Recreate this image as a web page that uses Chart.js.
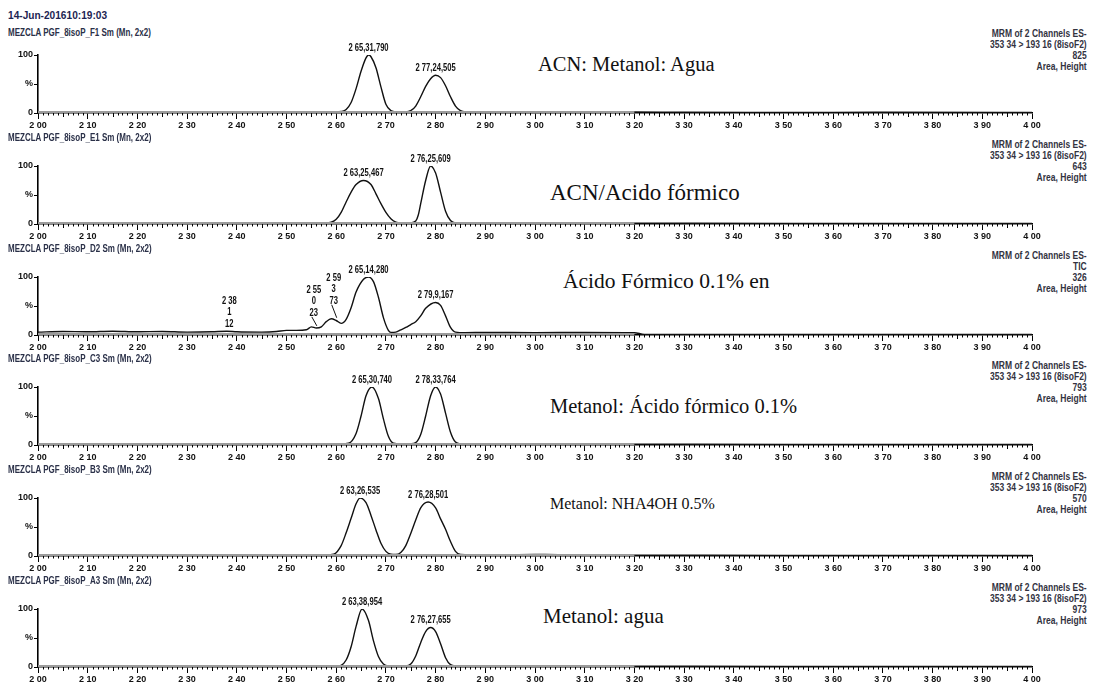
<!DOCTYPE html>
<html>
<head>
<meta charset="utf-8">
<script src="https://cdn.jsdelivr.net/npm/chart.js"></script>
<style>
  body { margin: 0; background: #fff; width: 1096px; height: 689px; overflow: hidden; position: relative;
         font-family: "Liberation Sans Narrow", "Liberation Sans", Arial, sans-serif; }
  canvas { position: absolute; left: 0; }
  .title { position: absolute; left: 8px; top: 9px; font-size: 11px; line-height: 12px; font-weight: bold; color: #1c2452;
           transform: scaleX(0.92); transform-origin: left; }
  .sub { position: absolute; left: 8px; font-size: 10px; line-height: 11px; font-weight: bold; color: #2a3048; white-space: nowrap;
         transform: scaleX(0.8); transform-origin: left; }
  .info { position: absolute; right: 9px; font-size: 10px; line-height: 11px; font-weight: bold; text-align: right; color: #33333f;
          white-space: nowrap; transform: scaleX(0.85); transform-origin: right; }
  .note { position: absolute; font-family: "Liberation Serif", "Times New Roman", serif; line-height: 1; color: #111; white-space: nowrap; }
</style>
</head>
<body>
<div class="title">14-Jun-201610:19:03</div>
<script>
// x axis
const xTickValues = [2.0, 2.1, 2.2, 2.3, 2.4, 2.5, 2.6, 2.7, 2.8, 2.9, 3.0, 3.1, 3.2, 3.3, 3.4, 3.5, 3.6, 3.7, 3.8, 3.9, 4.0];
const xTickLabels = ['2 00', '2 10', '2 20', '2 30', '2 40', '2 50', '2 60', '2 70', '2 80', '2 90', '3 00',
                     '3 10', '3 20', '3 30', '3 40', '3 50', '3 60', '3 70', '3 80', '3 90', '4 00'];
const yTickValues = [0, 50, 100];
const yTickLabels = ['0', '%', '100'];

const panelNames = ['MEZCLA PGF_8isoP_F1 Sm (Mn, 2x2)', 'MEZCLA PGF_8isoP_E1 Sm (Mn, 2x2)', 'MEZCLA PGF_8isoP_D2 Sm (Mn, 2x2)',
                    'MEZCLA PGF_8isoP_C3 Sm (Mn, 2x2)', 'MEZCLA PGF_8isoP_B3 Sm (Mn, 2x2)', 'MEZCLA PGF_8isoP_A3 Sm (Mn, 2x2)'];
const panelChannel = ['353 34 > 193 16 (8isoF2)', '353 34 > 193 16 (8isoF2)', 'TIC',
                      '353 34 > 193 16 (8isoF2)', '353 34 > 193 16 (8isoF2)', '353 34 > 193 16 (8isoF2)'];
const panelIntensity = ['825', '643', '326', '793', '570', '973'];
const panelNotes = ['ACN: Metanol: Agua', 'ACN/Acido fórmico', 'Ácido Fórmico 0.1% en',
                    'Metanol: Ácido fórmico 0.1%', 'Metanol: NHA4OH 0.5%', 'Metanol: agua'];

// traces [time, %]
const traceF1 = [[2.00,1.5],[2.05,2],[2.10,1.5],[2.15,2.2],[2.20,1.5],[2.25,2],[2.30,1.8],[2.35,2.3],[2.40,1.6],[2.45,2.2],
  [2.50,1.8],[2.55,2],[2.60,1.8],[2.61,2.5],[2.62,6],[2.63,18],[2.64,42],[2.65,72],[2.66,95],[2.665,100],[2.67,97],
  [2.68,78],[2.69,45],[2.70,15],[2.71,4],[2.72,2],[2.74,2],[2.75,4],[2.76,12],[2.77,28],[2.78,46],[2.79,59],[2.80,65],
  [2.81,61],[2.82,47],[2.83,28],[2.84,12],[2.85,4],[2.86,2],[2.90,1.8],[3.00,2],[3.10,1.6],[3.20,1.8],[3.30,1.2],
  [3.50,1],[3.70,1.2],[4.00,1]];
const traceE1 = [[2.00,1.5],[2.10,1.8],[2.20,1.5],[2.30,1.8],[2.40,1.5],[2.50,1.8],[2.58,1.5],[2.59,3],[2.60,8],[2.61,20],
  [2.62,38],[2.63,55],[2.64,68],[2.655,75],[2.67,68],[2.68,52],[2.69,35],[2.70,20],[2.71,9],[2.72,3],[2.73,1.8],[2.75,2],
  [2.76,5],[2.765,15],[2.77,35],[2.78,75],[2.79,100],[2.80,88],[2.81,55],[2.82,22],[2.83,6],[2.84,2],[2.90,1.5],
  [3.00,1.8],[3.20,1.5],[3.50,1],[4.00,1]];
const traceD2 = [[2.00,5],[2.05,6],[2.10,5.5],[2.15,6.5],[2.20,5.5],[2.25,6],[2.30,5],[2.35,5.5],[2.38,6.5],[2.40,5.5],
  [2.45,5],[2.48,6],[2.50,8],[2.52,8],[2.54,9],[2.55,14],[2.56,12],[2.57,14],[2.58,23],[2.59,28],[2.60,25],[2.61,20],
  [2.62,27],[2.63,47],[2.64,74],[2.655,96],[2.665,100],[2.675,92],[2.685,65],[2.695,30],[2.705,8],[2.71,4.5],[2.72,5],
  [2.73,9],[2.74,13],[2.75,18],[2.76,23],[2.77,33],[2.78,46],[2.80,56],[2.81,51],[2.82,33],[2.83,13],[2.84,5],[2.86,4],
  [2.90,4.5],[3.00,4],[3.10,4.5],[3.20,4],[3.22,1],[3.50,1],[4.00,1]];
const traceC3 = [[2.00,1.5],[2.10,1.8],[2.20,1.5],[2.30,1.8],[2.40,1.5],[2.50,1.8],[2.60,1.5],[2.61,1.5],[2.625,3],[2.64,20],
  [2.65,50],[2.66,85],[2.672,100],[2.685,80],[2.695,45],[2.705,15],[2.715,3],[2.73,1.5],[2.75,2],[2.76,4],[2.77,18],
  [2.78,50],[2.79,85],[2.80,100],[2.81,88],[2.82,55],[2.83,22],[2.84,5],[2.85,2],[2.90,1.5],[3.00,1.8],[3.20,1.5],
  [3.50,1],[4.00,1]];
const traceB3 = [[2.00,1.5],[2.10,1.8],[2.20,1.5],[2.30,1.8],[2.40,1.5],[2.50,1.8],[2.58,1.5],[2.595,3],[2.61,18],[2.62,40],
  [2.63,65],[2.64,90],[2.648,100],[2.66,92],[2.67,70],[2.68,45],[2.69,22],[2.70,8],[2.71,3],[2.72,2.5],[2.73,6],[2.74,18],
  [2.75,39],[2.76,62],[2.77,83],[2.785,93],[2.80,83],[2.81,64],[2.82,46],[2.83,25],[2.84,8],[2.85,2.5],[2.90,1.5],
  [3.00,2.5],[3.02,2.5],[3.10,1.5],[3.20,1.5],[3.50,1],[4.00,1]];
const traceA3 = [[2.00,1.5],[2.10,1.8],[2.20,1.5],[2.30,1.8],[2.40,1.5],[2.50,1.8],[2.60,1.5],[2.61,3],[2.62,12],[2.63,35],
  [2.64,70],[2.652,100],[2.665,80],[2.675,45],[2.685,18],[2.695,5],[2.705,2],[2.74,2],[2.75,5],[2.76,19],[2.77,42],
  [2.78,61],[2.79,68],[2.80,61],[2.81,40],[2.82,16],[2.83,4],[2.84,2],[2.90,1.5],[3.00,1.8],[3.20,1.5],[3.50,1],[4.00,1]];

// integrated baselines [start, end]
const integF1 = [[2.60, 2.72], [2.74, 2.86]];
const integE1 = [[2.59, 2.73], [2.75, 2.84]];
const integD2 = [[2.53, 2.57], [2.57, 2.61], [2.61, 2.71], [2.71, 2.84]];
const integC3 = [[2.61, 2.72], [2.74, 2.85]];
const integB3 = [[2.58, 2.71], [2.72, 2.85]];
const integA3 = [[2.60, 2.71], [2.73, 2.84]];

// peak labels: apex time, apex %, text lines
const peaksF1 = [[2.665, 100, ['2 65,31,790']], [2.80, 65, ['2 77,24,505']]];
const peaksE1 = [[2.655, 75, ['2 63,25,467']], [2.79, 100, ['2 76,25,609']]];
const peaksD2 = [[2.385, 6.5, ['2 38', '1', '12']], [2.555, 14, ['2 55', '0', '23']], [2.595, 28, ['2 59', '3', '73']],
                 [2.665, 100, ['2 65,14,280']], [2.80, 56, ['2 79,9,167']]];
const peaksC3 = [[2.672, 100, ['2 65,30,740']], [2.80, 100, ['2 78,33,764']]];
const peaksB3 = [[2.648, 100, ['2 63,26,535']], [2.785, 93, ['2 76,28,501']]];
const peaksA3 = [[2.652, 100, ['2 63,38,954']], [2.79, 68, ['2 76,27,655']]];
// extra lift (px) for crowded labels in the TIC panel
const labelLiftD2 = [0, 7, 11, 0, 0];

const bandRange = [2.00, 3.20];

const traces = [traceF1, traceE1, traceD2, traceC3, traceB3, traceA3];
const integs = [integF1, integE1, integD2, integC3, integB3, integA3];
const peaks = [peaksF1, peaksE1, peaksD2, peaksC3, peaksB3, peaksA3];
const lifts = [[], [], labelLiftD2, [], [], []];

const panelTops = [55, 166, 277, 387, 498, 609];
const plotH = 58, padTop = 22, axisH = 20;
const subCenters = [33, 138, 249, 359, 470, 581];
const noteCenters = [65, 193, 283, 407, 505, 617];
const noteLefts = [538, 550, 563, 550, 550, 543];
const noteSizes = [20.5, 23, 21.5, 20.5, 16, 21];
const smallFont = '"Liberation Sans Narrow", "Liberation Sans", Arial, sans-serif';

const peakLabels = {
  id: 'peakLabels',
  afterDatasetsDraw(chart, args, opts) {
    const { ctx, scales: { x, y } } = chart;
    ctx.save();
    ctx.font = 'bold 10px ' + smallFont;
    ctx.fillStyle = '#111';
    ctx.strokeStyle = '#111';
    ctx.lineWidth = 1;
    ctx.textAlign = 'center';
    ctx.textBaseline = 'bottom';
    opts.list.forEach(([t, v, lines], k) => {
      const px = x.getPixelForValue(t);
      const apexY = y.getPixelForValue(v);
      const lift = opts.lift[k] || 0;
      let py = apexY - 2 - lift;
      if (lift) {
        ctx.beginPath();
        ctx.moveTo(px - 2, py - 1);
        ctx.lineTo(px + 3, apexY - 1);
        ctx.stroke();
      }
      for (let i = lines.length - 1; i >= 0; i--) {
        ctx.save();
        ctx.translate(px, py);
        ctx.scale(0.76, 1);
        ctx.fillText(lines[i], 0, 0);
        ctx.restore();
        py -= 11.5;
      }
    });
    ctx.restore();
  }
};

const minorTicks = {
  id: 'minorTicks',
  afterDraw(chart) {
    const { ctx, scales: { x }, chartArea } = chart;
    ctx.save();
    ctx.strokeStyle = '#000';
    ctx.lineWidth = 1;
    ctx.beginPath();
    for (let k = 0; k <= 200; k++) {
      if (k % 10 === 0) continue;
      const px = Math.round(x.getPixelForValue(2 + k / 100)) + 0.5;
      const len = k % 5 === 0 ? 4 : 2.5;
      ctx.moveTo(px, chartArea.bottom);
      ctx.lineTo(px, chartArea.bottom + len);
    }
    ctx.stroke();
    ctx.restore();
  }
};

panelTops.forEach((top, i) => {
  const sub = document.createElement('div');
  sub.className = 'sub';
  sub.style.top = (subCenters[i] - 6) + 'px';
  sub.textContent = panelNames[i];
  document.body.appendChild(sub);

  const info = document.createElement('div');
  info.className = 'info';
  info.style.top = (top - 27) + 'px';
  info.innerHTML = ['MRM of 2 Channels ES-', panelChannel[i], panelIntensity[i], 'Area, Height'].join('<br>');
  document.body.appendChild(info);

  const note = document.createElement('div');
  note.className = 'note';
  note.style.top = (noteCenters[i] - noteSizes[i] / 2 - 1) + 'px';
  note.style.left = noteLefts[i] + 'px';
  note.style.fontSize = noteSizes[i] + 'px';
  note.textContent = panelNotes[i];
  document.body.appendChild(note);

  const cv = document.createElement('canvas');
  cv.width = 1096;
  cv.height = padTop + plotH + axisH;
  cv.style.top = (top - padTop) + 'px';
  document.body.appendChild(cv);

  const integData = [];
  integs[i].forEach(([a, b]) => { integData.push({ x: a, y: 1.2 }, { x: b, y: 1.2 }, { x: b, y: null }); });

  new Chart(cv.getContext('2d'), {
    type: 'line',
    data: {
      datasets: [
        { data: bandRange.map(t => ({ x: t, y: 0.8 })), borderColor: '#9a9a9a', borderWidth: 3, pointRadius: 0 },
        { data: integData, borderColor: '#222', borderWidth: 2, pointRadius: 0, spanGaps: false },
        { data: traces[i].map(([t, v]) => ({ x: t, y: v })), borderColor: '#111', borderWidth: 1.4,
          pointRadius: 0, cubicInterpolationMode: 'monotone' }
      ]
    },
    options: {
      responsive: false,
      animation: false,
      devicePixelRatio: 1,
      layout: { padding: { top: padTop, right: 64, left: 0, bottom: 0 } },
      plugins: { legend: { display: false }, tooltip: { enabled: false },
                 peakLabels: { list: peaks[i], lift: lifts[i] } },
      scales: {
        x: {
          type: 'linear', min: 2, max: 4,
          afterBuildTicks: s => { s.ticks = xTickValues.map(v => ({ value: v })); },
          afterFit: s => { s.height = axisH; },
          ticks: { autoSkip: false, maxRotation: 0, padding: 1, color: '#111',
                   font: { family: smallFont, size: 9, weight: 'bold' }, callback: (v, k) => xTickLabels[k] },
          grid: { drawOnChartArea: false, tickLength: 6, color: '#000' },
          border: { color: '#000', width: 1.6 }
        },
        y: {
          min: 0, max: 100,
          afterBuildTicks: s => { s.ticks = yTickValues.map(v => ({ value: v })); },
          afterFit: s => { s.width = 38; },
          ticks: { padding: 1, color: '#111', font: { family: smallFont, size: 9, weight: 'bold' },
                   callback: (v, k) => yTickLabels[k] },
          grid: { drawOnChartArea: false, tickLength: 4, color: '#000' },
          border: { color: '#000', width: 1.6 }
        }
      }
    },
    plugins: [peakLabels, minorTicks]
  });
});
</script>
</body>
</html>
